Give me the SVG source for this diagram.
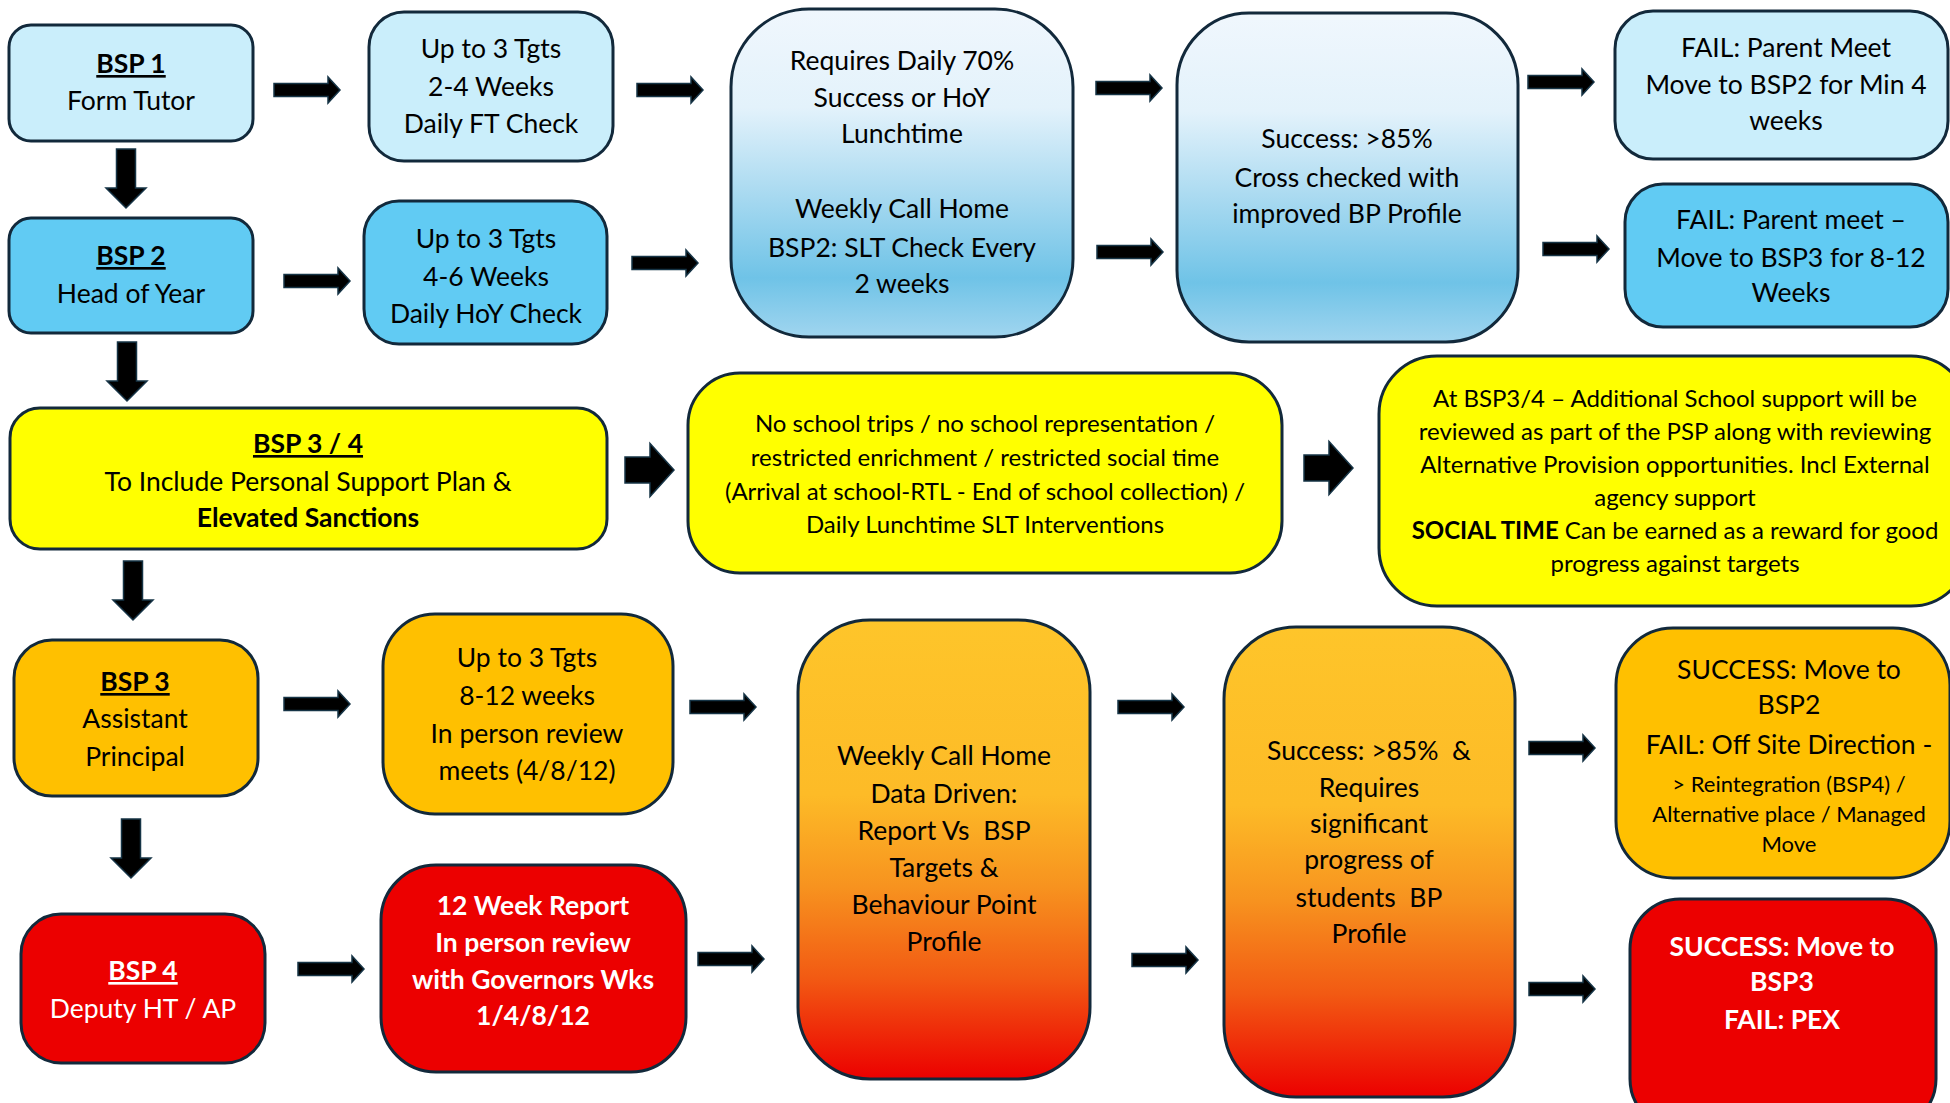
<svg xmlns="http://www.w3.org/2000/svg" xmlns:xlink="http://www.w3.org/1999/xlink" width="1950" height="1103" viewBox="0 0 1950 1103">
<style>
  .box { stroke: #12293b; stroke-width: 3; }
  .lb { fill: #caeefb; }
  .db { fill: #61cbf3; }
  .ye { fill: #ffff00; }
  .or { fill: #ffc000; }
  .rd { fill: #ec0000; }
  text { font-family: Lato, "Liberation Sans", sans-serif; font-size: 26.5px; fill: #000; text-anchor: middle; }
  .s { font-size: 24px; }
  .xs { font-size: 22px; }
  .b { font-weight: bold; }
  .u { text-decoration: underline; }
  .w { fill: #fff; }
  .arr { fill: #000; stroke: #163446; stroke-width: 1.5; }
</style>
<defs>
  <linearGradient id="gBlue" x1="0" y1="0" x2="0" y2="1">
    <stop offset="0" stop-color="#f0f7fd"/>
    <stop offset="0.3" stop-color="#e3f2fb"/>
    <stop offset="0.55" stop-color="#acdbf1"/>
    <stop offset="0.82" stop-color="#6fc3e7"/>
    <stop offset="1" stop-color="#a0d5ef"/>
  </linearGradient>
  <linearGradient id="gOrange" x1="0" y1="0" x2="0" y2="1">
    <stop offset="0" stop-color="#fec52a"/>
    <stop offset="0.38" stop-color="#fdbb27"/>
    <stop offset="0.58" stop-color="#f7931f"/>
    <stop offset="0.78" stop-color="#f25a13"/>
    <stop offset="1" stop-color="#ec0000"/>
  </linearGradient>
  <path id="ra" d="M0,-6.5 H54 V-13 L66,0 L54,13 V6.5 H0 Z"/>
  <path id="da" d="M-9.5,0 V39 H-20 L0,59 L20,39 H9.5 V0 Z"/>
  <path id="ba" d="M0,-13 H25 V-26.5 L49,0 L25,26.5 V13 H0 Z"/>
</defs>

<g id="connectors">
  <use href="#ra" class="arr" x="274" y="90"/>
  <use href="#ra" class="arr" x="637" y="90"/>
  <use href="#ra" class="arr" x="1096" y="88"/>
  <use href="#ra" class="arr" x="1528" y="82"/>
  <use href="#ra" class="arr" x="284" y="281"/>
  <use href="#ra" class="arr" x="632" y="263"/>
  <use href="#ra" class="arr" x="1097" y="252"/>
  <use href="#ra" class="arr" x="1543" y="249"/>
  <use href="#ra" class="arr" x="284" y="704"/>
  <use href="#ra" class="arr" x="690" y="707"/>
  <use href="#ra" class="arr" x="1118" y="707"/>
  <use href="#ra" class="arr" x="1529" y="748"/>
  <use href="#ra" class="arr" x="298" y="969"/>
  <use href="#ra" class="arr" x="698" y="959"/>
  <use href="#ra" class="arr" x="1132" y="960"/>
  <use href="#ra" class="arr" x="1529" y="989"/>
  <use href="#da" class="arr" x="126" y="149"/>
  <use href="#da" class="arr" x="127" y="342"/>
  <use href="#da" class="arr" x="133" y="561"/>
  <use href="#da" class="arr" x="131" y="819"/>
  <use href="#ba" class="arr" x="625" y="470"/>
  <use href="#ba" class="arr" x="1304" y="468"/>
</g>

<g id="bsp1">
  <rect class="box lb" x="9" y="25" width="244" height="116" rx="22"/>
  <text class="b u" x="131" y="73">BSP 1</text>
  <text x="131" y="110">Form Tutor</text>
</g>
<g id="tgts1">
  <rect class="box lb" x="369" y="12" width="244" height="149" rx="35"/>
  <text x="491" y="58">Up to 3 Tgts</text>
  <text x="491" y="96">2-4 Weeks</text>
  <text x="491" y="133">Daily FT Check</text>
</g>
<g id="requires">
  <rect class="box" fill="url(#gBlue)" x="731" y="9" width="342" height="328" rx="78"/>
  <text x="902" y="70">Requires Daily 70%</text>
  <text x="902" y="107">Success or HoY</text>
  <text x="902" y="143">Lunchtime</text>
  <text x="902" y="218">Weekly Call Home</text>
  <text x="902" y="257">BSP2: SLT Check Every</text>
  <text x="902" y="293">2 weeks</text>
</g>
<g id="success1">
  <rect class="box" fill="url(#gBlue)" x="1177" y="13" width="341" height="329" rx="72"/>
  <text x="1347" y="148">Success: &gt;85%</text>
  <text x="1347" y="187">Cross checked with</text>
  <text x="1347" y="223">improved BP Profile</text>
</g>
<g id="fail1">
  <rect class="box lb" x="1615" y="11" width="333" height="148" rx="38"/>
  <text x="1786" y="57">FAIL: Parent Meet</text>
  <text x="1786" y="94">Move to BSP2 for Min 4</text>
  <text x="1786" y="130">weeks</text>
</g>
<g id="bsp2">
  <rect class="box db" x="9" y="218" width="244" height="115" rx="22"/>
  <text class="b u" x="131" y="265">BSP 2</text>
  <text x="131" y="303">Head of Year</text>
</g>
<g id="tgts2">
  <rect class="box db" x="364" y="201" width="243" height="143" rx="35"/>
  <text x="486" y="248">Up to 3 Tgts</text>
  <text x="486" y="286">4-6 Weeks</text>
  <text x="486" y="323">Daily HoY Check</text>
</g>
<g id="fail2">
  <rect class="box db" x="1625" y="184" width="323" height="143" rx="38"/>
  <text x="1791" y="229">FAIL: Parent meet –</text>
  <text x="1791" y="267">Move to BSP3 for 8-12</text>
  <text x="1791" y="302">Weeks</text>
</g>
<g id="bsp34">
  <rect class="box ye" x="10" y="408" width="597" height="141" rx="30"/>
  <text class="b u" x="308" y="453">BSP 3 / 4</text>
  <text x="308" y="491">To Include Personal Support Plan &amp;</text>
  <text class="b" x="308" y="527">Elevated Sanctions</text>
</g>
<g id="sanctions">
  <rect class="box ye" x="688" y="373" width="594" height="200" rx="52"/>
  <text class="s" x="985" y="432">No school trips / no school representation /</text>
  <text class="s" x="985" y="466">restricted enrichment / restricted social time</text>
  <text class="s" x="985" y="500">(Arrival at school-RTL - End of school collection) /</text>
  <text class="s" x="985" y="533">Daily Lunchtime SLT Interventions</text>
</g>
<g id="support">
  <rect class="box ye" x="1379" y="356" width="590" height="250" rx="58"/>
  <text class="s" x="1675" y="407">At BSP3/4 – Additional School support will be</text>
  <text class="s" x="1675" y="440">reviewed as part of the PSP along with reviewing</text>
  <text class="s" x="1675" y="473">Alternative Provision opportunities. Incl External</text>
  <text class="s" x="1675" y="506">agency support</text>
  <text class="s" x="1675" y="539"><tspan class="b">SOCIAL TIME</tspan> Can be earned as a reward for good</text>
  <text class="s" x="1675" y="572">progress against targets</text>
</g>
<g id="bsp3">
  <rect class="box or" x="14" y="640" width="244" height="156" rx="38"/>
  <text class="b u" x="135" y="691">BSP 3</text>
  <text x="135" y="728">Assistant</text>
  <text x="135" y="766">Principal</text>
</g>
<g id="tgts3">
  <rect class="box or" x="383" y="614" width="290" height="200" rx="52"/>
  <text x="527" y="667">Up to 3 Tgts</text>
  <text x="527" y="705">8-12 weeks</text>
  <text x="527" y="743">In person review</text>
  <text x="527" y="780">meets (4/8/12)</text>
</g>
<g id="weekly">
  <rect class="box" fill="url(#gOrange)" x="798" y="620" width="292" height="459" rx="72"/>
  <text x="944" y="765">Weekly Call Home</text>
  <text x="944" y="803">Data Driven:</text>
  <text x="944" y="840">Report Vs&#160; BSP</text>
  <text x="944" y="877">Targets &amp;</text>
  <text x="944" y="914">Behaviour Point</text>
  <text x="944" y="951">Profile</text>
</g>
<g id="success2">
  <rect class="box" fill="url(#gOrange)" x="1224" y="627" width="291" height="470" rx="72"/>
  <text x="1369" y="760">Success: &gt;85%&#160; &amp;</text>
  <text x="1369" y="797">Requires</text>
  <text x="1369" y="833">significant</text>
  <text x="1369" y="869">progress of</text>
  <text x="1369" y="907">students&#160; BP</text>
  <text x="1369" y="943">Profile</text>
</g>
<g id="outcome3">
  <rect class="box or" x="1616" y="628" width="334" height="250" rx="57"/>
  <text x="1789" y="679">SUCCESS: Move to</text>
  <text x="1789" y="714">BSP2</text>
  <text x="1789" y="754">FAIL: Off Site Direction -</text>
  <text class="xs" x="1789" y="792">&gt; Reintegration (BSP4) /</text>
  <text class="xs" x="1789" y="822">Alternative place / Managed</text>
  <text class="xs" x="1789" y="852">Move</text>
</g>
<g id="bsp4">
  <rect class="box rd" x="21" y="914" width="244" height="149" rx="40"/>
  <text class="b u w" x="143" y="980">BSP 4</text>
  <text class="w" x="143" y="1018">Deputy HT / AP</text>
</g>
<g id="report12">
  <rect class="box rd" x="381" y="865" width="305" height="207" rx="55"/>
  <text class="b w" x="533" y="915">12 Week Report</text>
  <text class="b w" x="533" y="952">In person review</text>
  <text class="b w" x="533" y="989">with Governors Wks</text>
  <text class="b w" x="533" y="1025">1/4/8/12</text>
</g>
<g id="outcome4">
  <rect class="box rd" x="1630" y="899" width="306" height="230" rx="50"/>
  <text class="b w" x="1782" y="956">SUCCESS: Move to</text>
  <text class="b w" x="1782" y="991">BSP3</text>
  <text class="b w" x="1782" y="1029">FAIL: PEX</text>
</g>
</svg>
